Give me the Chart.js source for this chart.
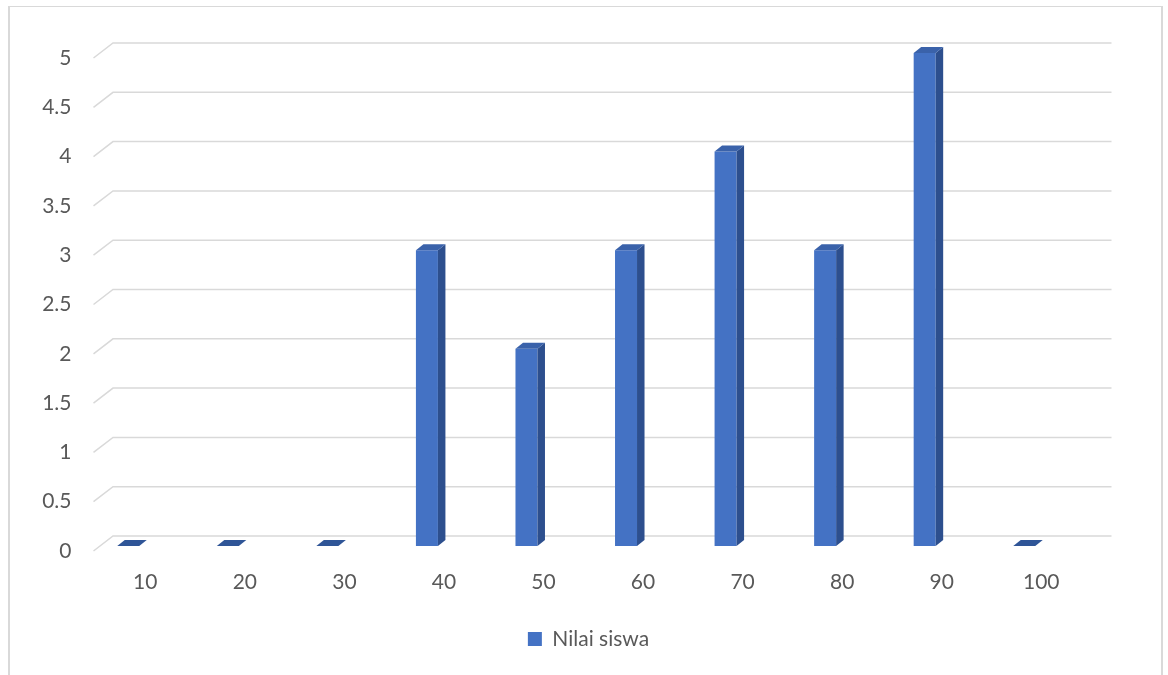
<!DOCTYPE html>
<html>
<head>
<meta charset="utf-8">
<script src="https://cdn.jsdelivr.net/npm/chart.js@4.4.0/dist/chart.umd.min.js"></script>
<style>
  html, body { margin: 0; padding: 0; background: #fff; }
  #wrap { position: relative; width: 1168px; height: 675px; }
  #frame {
    position: absolute; left: 8px; top: 6px; width: 1151px; height: 700px;
    border-left: 2px solid #d9d9d9; border-top: 1px solid #d9d9d9; border-right: 2px solid #d9d9d9;
  }
  canvas { position: absolute; left: 0; top: 0; }
</style>
</head>
<body>
<div id="wrap">
  <div id="frame"></div>
  <canvas id="chart" width="1168" height="675"></canvas>
</div>
<script>
// data
const categories = ['10', '20', '30', '40', '50', '60', '70', '80', '90', '100'];
const nilaiSiswa = [0, 0, 0, 3, 2, 3, 4, 3, 5, 0];
const seriesName = 'Nilai siswa';

const frontColor = '#4472c4';
const sideColor = '#2d4f8e';
const topColor = '#3a62aa';
const gridColor = '#d9d9d9';
const textColor = '#595959';

// fake 3d: depth of bars and of the back wall
const barDepth = { dx: 7.5, dy: -6 };

const wallPlugin = {
  id: 'wall',
  beforeDatasetsDraw(chart) {
    const { ctx, chartArea, scales } = chart;
    const y = scales.y;
    ctx.save();
    ctx.strokeStyle = gridColor;
    ctx.lineWidth = 1.5;
    y.ticks.forEach(t => {
      const py = y.getPixelForValue(t.value);
      ctx.beginPath();
      ctx.moveTo(chartArea.left + 15, py + 5);
      ctx.lineTo(chartArea.left + 34.5, py - 10);
      ctx.lineTo(chartArea.right + 37.5, py - 10);
      ctx.stroke();
    });
    ctx.restore();
  }
};

const bar3dPlugin = {
  id: 'bar3d',
  afterDatasetsDraw(chart) {
    const { ctx } = chart;
    const meta = chart.getDatasetMeta(0);
    ctx.save();
    meta.data.forEach(el => {
      const { x, y, base, width } = el.getProps(['x', 'y', 'base', 'width'], true);
      const x0 = x - width / 2, x1 = x + width / 2;
      const { dx, dy } = barDepth;
      // right side
      if (base - y > 0.5) {
        ctx.fillStyle = sideColor;
        ctx.beginPath();
        ctx.moveTo(x1, y);
        ctx.lineTo(x1 + dx, y + dy);
        ctx.lineTo(x1 + dx, base + dy);
        ctx.lineTo(x1, base);
        ctx.closePath();
        ctx.fill();
      }
      // top
      ctx.fillStyle = base - y > 0.5 ? topColor : '#2f5597';
      ctx.beginPath();
      ctx.moveTo(x0, y);
      ctx.lineTo(x1, y);
      ctx.lineTo(x1 + dx, y + dy);
      ctx.lineTo(x0 + dx, y + dy);
      ctx.closePath();
      ctx.fill();
    });
    ctx.restore();
  }
};

Chart.defaults.font.family = 'Lato, "Open Sans", sans-serif';
Chart.defaults.color = textColor;

new Chart(document.getElementById('chart'), {
  type: 'bar',
  data: {
    labels: categories,
    datasets: [{
      label: seriesName,
      data: nilaiSiswa,
      backgroundColor: frontColor,
      borderWidth: 0,
      barPercentage: 0.221,
      categoryPercentage: 1
    }]
  },
  options: {
    responsive: false,
    animation: false,
    layout: { padding: { left: 9, right: 0, top: 53, bottom: 15.5 } },
    plugins: {
      tooltip: { enabled: false },
      legend: {
        position: 'bottom',
        labels: {
          boxWidth: 14,
          boxHeight: 14,
          padding: 10,
          font: { size: 21 },
          color: textColor
        }
      }
    },
    scales: {
      x: {
        grid: { display: false },
        border: { display: false },
        ticks: { font: { size: 21 }, labelOffset: 17, padding: 16, maxRotation: 0 },
        afterFit(s) { s.height = 72.5; }
      },
      y: {
        min: 0,
        max: 5,
        grid: { display: false, drawTicks: false },
        border: { display: false },
        ticks: {
          stepSize: 0.5,
          font: { size: 21 },
          labelOffset: 5,
          padding: 7,
          callback: v => String(v)
        },
        afterFit(s) { s.width = 69.5; }
      },
      yRight: {
        position: 'right',
        grid: { display: false, drawTicks: false },
        border: { display: false },
        ticks: { display: false },
        afterFit(s) { s.width = 94; }
      }
    }
  },
  plugins: [wallPlugin, bar3dPlugin]
});
</script>
</body>
</html>
